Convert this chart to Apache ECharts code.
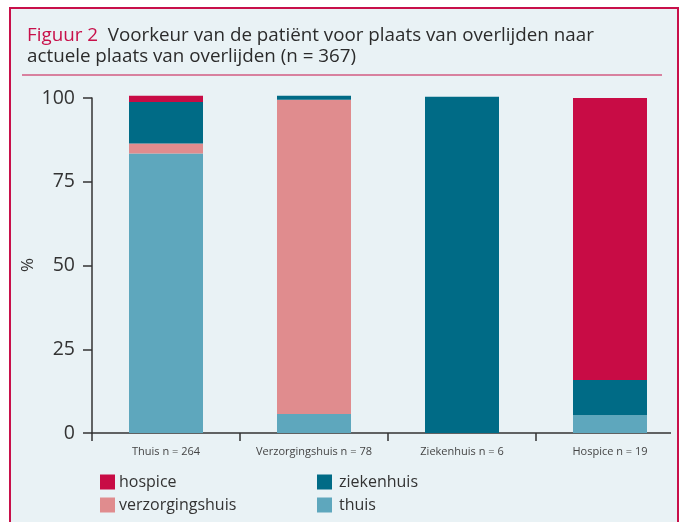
<!DOCTYPE html>
<html><head><meta charset="utf-8">
<script src="https://cdn.jsdelivr.net/npm/echarts@6/dist/echarts.min.js"></script>
<style>html,body{margin:0;padding:0;background:#fff}#c{width:684px;height:522px}</style>
</head><body><div id="c"></div>
<script>
const categories = ['Thuis n = 264', 'Verzorgingshuis n = 78', 'Ziekenhuis n = 6', 'Hospice n = 19'];
const thuis = [83.4, 5.7, 0, 5.3];
const verzorgingshuis = [3.0, 93.8, 0, 0];
const ziekenhuis = [12.4, 1.2, 100.4, 10.5];
const hospice = [1.9, 0, 0, 84.2];
const yTicks = [0, 25, 50, 75, 100];
const yName = '%';

const FONT = 'Open Sans';
const BG = '#e9f2f5';
const PINK = '#c8104a';
const colors = {hospice:'#c80c45', ziekenhuis:'#006b86', verzorgingshuis:'#e08c8e', thuis:'#5ea7bd'};

const chart = echarts.init(document.getElementById('c'));
function bar(name, data){
  return {name, type:'bar', stack:'s', data, barWidth:74, clip:false, itemStyle:{color:colors[name]}, z:3};
}
chart.setOption({
  animation:false,
  textStyle:{fontFamily:FONT},
  graphic:[
    {type:'rect', z:-10, shape:{x:10, y:8, width:668, height:530}, style:{fill:BG, stroke:PINK, lineWidth:2}},
    {type:'line', z:10, shape:{x1:22, y1:75, x2:662, y2:75}, style:{stroke:PINK, lineWidth:1.2}},
    {type:'rect', z:50, shape:{x:671, y:420, width:6, height:30}, style:{fill:BG}},
    {type:'rect', z:50, shape:{x:679, y:420, width:8, height:30}, style:{fill:'#fff'}},
    {type:'line', z:51, shape:{x1:678, y1:400, x2:678, y2:522}, style:{stroke:PINK, lineWidth:2}},
    {type:'text', z:20, x:28, y:265, rotation:Math.PI/2,
     style:{text:yName, fontFamily:FONT, fontSize:17, fill:'#333', align:'center', verticalAlign:'middle'}}
  ],
  title:{
    left:22, top:20,
    text:'{a|Figuur 2}  Voorkeur van de patiënt voor plaats van overlijden naar\nactuele plaats van overlijden (n = 367)',
    textStyle:{fontFamily:FONT, fontSize:18.8, fontWeight:'normal', color:'#2b2b2b', lineHeight:21,
      rich:{a:{fontFamily:FONT, fontSize:18.8, color:PINK, lineHeight:21}}}
  },
  legend:[
    {left:95, top:469, orient:'vertical', itemWidth:15, itemHeight:15, itemGap:7, icon:'rect',
     data:['hospice','verzorgingshuis'], textStyle:{fontFamily:FONT, fontSize:16, color:'#333', padding:[0,0,0,-1]}},
    {left:312, top:469, orient:'vertical', itemWidth:15, itemHeight:15, itemGap:7, icon:'rect',
     data:['ziekenhuis','thuis'], textStyle:{fontFamily:FONT, fontSize:16, color:'#333', padding:[0,0,0,2]}}
  ],
  grid:{left:92, top:98, width:597, height:335, containLabel:false},
  xAxis:{
    type:'category', data:categories,
    axisLine:{lineStyle:{color:'#333', width:1.5}},
    axisTick:{show:true, length:8, lineStyle:{color:'#333', width:1.5}, alignWithLabel:false},
    axisLabel:{fontFamily:FONT, fontSize:11, color:'#444', margin:13, interval:0}
  },
  yAxis:{
    type:'value', min:0, max:100, interval:25,
    axisLine:{show:true, lineStyle:{color:'#333', width:1.5}},
    axisTick:{show:true, length:9, lineStyle:{color:'#333', width:1.5}},
    splitLine:{show:false},
    axisLabel:{fontFamily:FONT, fontSize:19.5, color:'#333', margin:17,
      formatter: v => yTicks.includes(v) ? String(v) : ''}
  },
  series:[bar('thuis', thuis), bar('verzorgingshuis', verzorgingshuis), bar('ziekenhuis', ziekenhuis), bar('hospice', hospice)]
});
</script></body></html>
